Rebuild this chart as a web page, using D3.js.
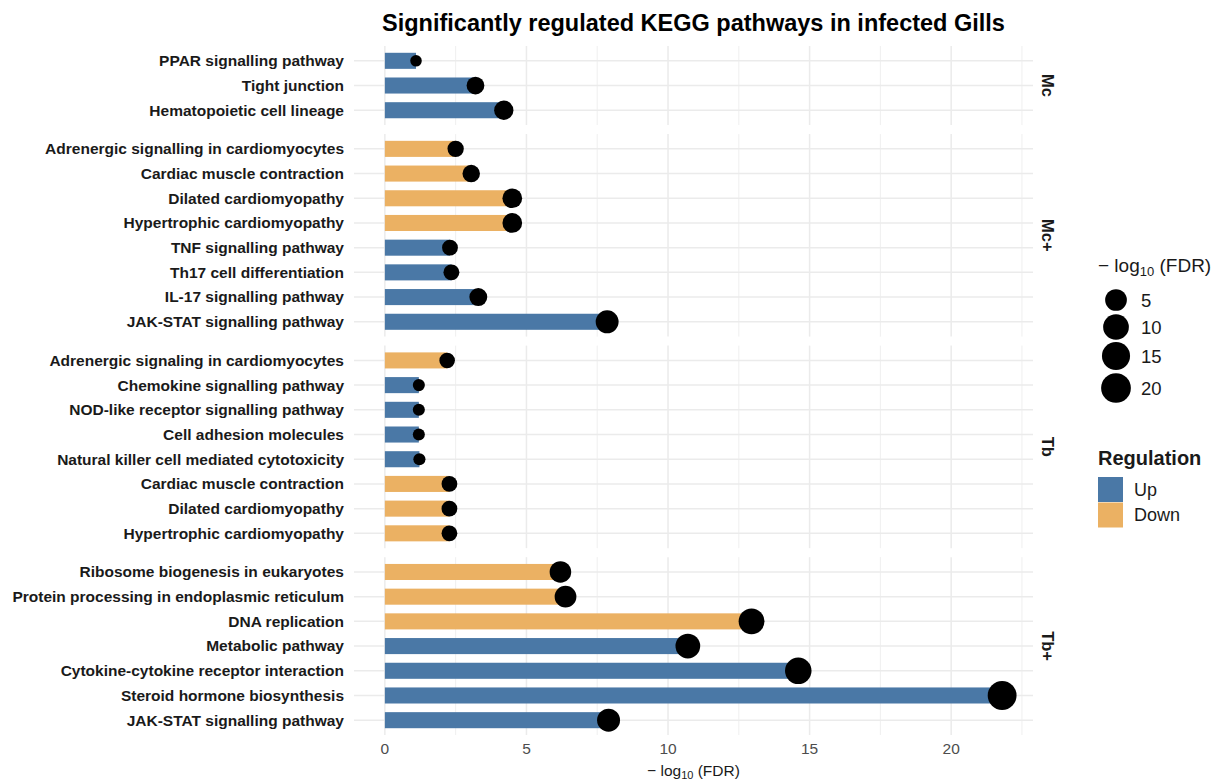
<!DOCTYPE html>
<html>
<head>
<meta charset="utf-8">
<script src="https://cdn.jsdelivr.net/npm/d3@7"></script>
<style>
  body { margin: 0; background: #fff; }
  svg { font-family: "Liberation Sans", Arial, Helvetica, sans-serif; }
</style>
</head>
<body>
<svg width="1223" height="784"></svg>
<script>
const svg = d3.select("svg");

// facets, top to bottom
const facets = ["Mc", "Mc+", "Tb", "Tb+"];

// pathways listed top to bottom inside each facet
const pathways = [
  "PPAR signalling pathway", "Tight junction", "Hematopoietic cell lineage",
  "Adrenergic signalling in cardiomyocytes", "Cardiac muscle contraction", "Dilated cardiomyopathy",
  "Hypertrophic cardiomyopathy", "TNF signalling pathway", "Th17 cell differentiation",
  "IL-17 signalling pathway", "JAK-STAT signalling pathway",
  "Adrenergic signaling in cardiomyocytes", "Chemokine signalling pathway",
  "NOD-like receptor signalling pathway", "Cell adhesion molecules",
  "Natural killer cell mediated cytotoxicity", "Cardiac muscle contraction",
  "Dilated cardiomyopathy", "Hypertrophic cardiomyopathy",
  "Ribosome biogenesis in eukaryotes", "Protein processing in endoplasmic reticulum",
  "DNA replication", "Metabolic pathway", "Cytokine-cytokine receptor interaction",
  "Steroid hormone biosynthesis", "JAK-STAT signalling pathway"
];
const groups = [
  "Mc", "Mc", "Mc",
  "Mc+", "Mc+", "Mc+", "Mc+", "Mc+", "Mc+", "Mc+", "Mc+",
  "Tb", "Tb", "Tb", "Tb", "Tb", "Tb", "Tb", "Tb",
  "Tb+", "Tb+", "Tb+", "Tb+", "Tb+", "Tb+", "Tb+"
];
const logFDR = [
  1.1, 3.2, 4.2,
  2.5, 3.05, 4.5, 4.5, 2.3, 2.35, 3.3, 7.85,
  2.2, 1.2, 1.2, 1.2, 1.22, 2.28, 2.28, 2.28,
  6.2, 6.38, 12.95, 10.7, 14.6, 21.8, 7.9
];
const regulation = [
  "Up", "Up", "Up",
  "Down", "Down", "Down", "Down", "Up", "Up", "Up", "Up",
  "Down", "Up", "Up", "Up", "Up", "Down", "Down", "Down",
  "Down", "Down", "Down", "Up", "Up", "Up", "Up"
];
const xTicks = [0, 5, 10, 15, 20];
const sizeBreaks = [5, 10, 15, 20];
const regLevels = ["Up", "Down"];

const rows = pathways.map((p, i) => ({
  id: i, name: p, group: groups[i], value: logFDR[i], reg: regulation[i]
}));

// layout
const plotLeft = 354, plotRight = 1033, plotTop = 46, plotBottom = 735, gap = 9;
const grey = "#ebebeb";

const xMax = d3.max(logFDR);
const x = d3.scaleLinear()
  .domain([-0.05 * xMax, xMax * 1.05])
  .range([plotLeft, plotRight]);

const color = d3.scaleOrdinal().domain(regLevels).range(["#4a78a6", "#ebb163"]);
const radius = d3.scaleLog().domain([1, 22]).range([5.5, 14.45]);

// panel heights proportional to number of rows (+0.6 padding both sides)
const units = facets.map(f => rows.filter(r => r.group === f).length - 1 + 1.2);
const step = (plotBottom - plotTop - gap * (facets.length - 1)) / d3.sum(units);

let y0 = plotTop;
facets.forEach((f, fi) => {
  const data = rows.filter(r => r.group === f);
  const h = units[fi] * step;
  const y = d3.scalePoint()
    .domain(data.map(d => d.id))
    .range([y0, y0 + h])
    .padding(0.6);

  const g = svg.append("g");

  // minor vertical gridlines
  g.selectAll(".minor").data(d3.range(2.5, 23, 5)).join("line")
    .attr("x1", d => x(d)).attr("x2", d => x(d))
    .attr("y1", y0).attr("y2", y0 + h)
    .attr("stroke", grey).attr("stroke-width", 0.8);
  // major vertical gridlines
  g.selectAll(".major").data(xTicks).join("line")
    .attr("x1", d => x(d)).attr("x2", d => x(d))
    .attr("y1", y0).attr("y2", y0 + h)
    .attr("stroke", grey).attr("stroke-width", 1.5);
  // horizontal gridlines
  g.selectAll(".hgrid").data(data).join("line")
    .attr("x1", plotLeft).attr("x2", plotRight)
    .attr("y1", d => y(d.id)).attr("y2", d => y(d.id))
    .attr("stroke", grey).attr("stroke-width", 1.5);

  // bars
  const bh = step * 0.65;
  g.selectAll(".bar").data(data).join("rect")
    .attr("x", x(0))
    .attr("y", d => y(d.id) - bh / 2)
    .attr("width", d => x(d.value) - x(0))
    .attr("height", bh)
    .attr("fill", d => color(d.reg));

  // dots
  g.selectAll(".dot").data(data).join("circle")
    .attr("cx", d => x(d.value))
    .attr("cy", d => y(d.id))
    .attr("r", d => radius(d.value))
    .attr("fill", "#000");

  // y labels
  g.selectAll(".lab").data(data).join("text")
    .attr("x", plotLeft - 10)
    .attr("y", d => y(d.id))
    .attr("dy", "0.35em")
    .attr("text-anchor", "end")
    .attr("font-size", 15.5)
    .attr("font-weight", "bold")
    .attr("fill", "#1a1a1a")
    .text(d => d.name);

  // strip label
  const cy = y0 + h / 2;
  g.append("text")
    .attr("transform", `translate(${plotRight + 9},${cy}) rotate(90)`)
    .attr("text-anchor", "middle")
    .attr("font-size", 16.5)
    .attr("font-weight", "bold")
    .attr("fill", "#1a1a1a")
    .text(f);

  y0 += h + gap;
});

// x axis tick labels
svg.append("g").selectAll("text").data(xTicks).join("text")
  .attr("x", d => x(d))
  .attr("y", 754)
  .attr("text-anchor", "middle")
  .attr("font-size", 15.5)
  .attr("fill", "#4d4d4d")
  .text(d => d);

// x axis title
const xt = svg.append("text")
  .attr("x", (plotLeft + plotRight) / 2)
  .attr("y", 776)
  .attr("text-anchor", "middle")
  .attr("font-size", 15.5)
  .attr("fill", "#1a1a1a");
xt.append("tspan").text("\u2212 log");
xt.append("tspan").attr("font-size", 11).attr("dy", 3).text("10");
xt.append("tspan").attr("dy", -3).text(" (FDR)");

// title
svg.append("text")
  .attr("x", (plotLeft + plotRight) / 2)
  .attr("y", 31)
  .attr("text-anchor", "middle")
  .attr("font-size", 23.5)
  .attr("font-weight", "bold")
  .attr("fill", "#000")
  .text("Significantly regulated KEGG pathways in infected Gills");

// size legend
const lt = svg.append("text")
  .attr("x", 1098).attr("y", 272)
  .attr("font-size", 19).attr("fill", "#1a1a1a");
lt.append("tspan").text("\u2212 log");
lt.append("tspan").attr("font-size", 13).attr("dy", 4).text("10");
lt.append("tspan").attr("dy", -4).text(" (FDR)");

const sizeY = [300, 327, 356, 388];
const sl = svg.append("g").selectAll("g").data(sizeBreaks).join("g")
  .attr("transform", (d, i) => `translate(1116,${sizeY[i]})`);
sl.append("circle").attr("r", d => radius(d) + 0.7).attr("fill", "#000");
sl.append("text").attr("x", 25).attr("dy", "0.36em")
  .attr("font-size", 18.5).attr("fill", "#1a1a1a").text(d => d);

// regulation legend
svg.append("text")
  .attr("x", 1098).attr("y", 465)
  .attr("font-size", 20).attr("font-weight", "bold").attr("fill", "#1a1a1a")
  .text("Regulation");
const rl = svg.append("g").selectAll("g").data(regLevels).join("g")
  .attr("transform", (d, i) => `translate(1098,${477 + i * 25.5})`);
rl.append("rect").attr("width", 25).attr("height", 25).attr("fill", d => color(d));
rl.append("text").attr("x", 36).attr("y", 12.5).attr("dy", "0.36em")
  .attr("font-size", 18).attr("fill", "#1a1a1a").text(d => d);
</script>
</body>
</html>
